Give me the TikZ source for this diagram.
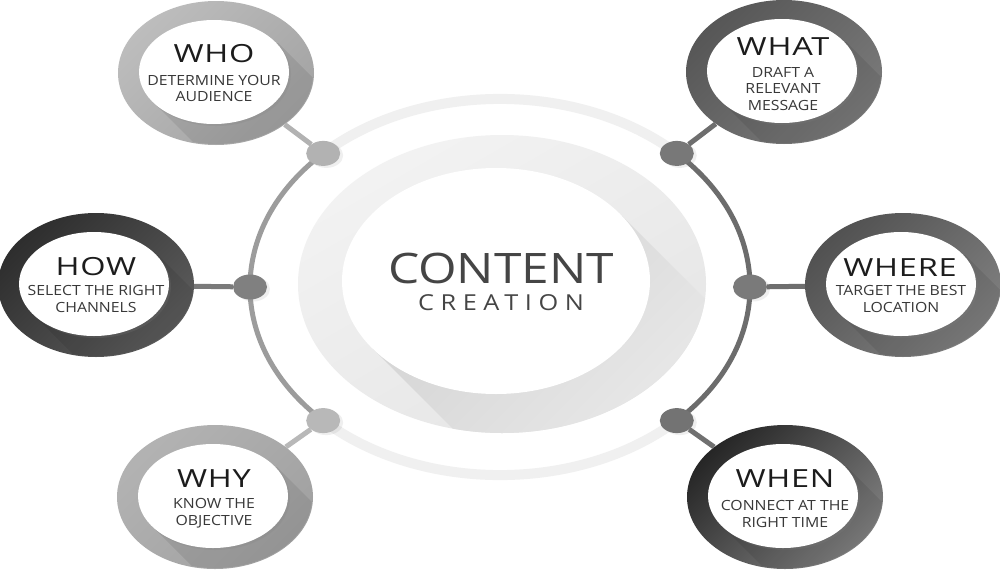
\documentclass[tikz,border=0pt]{standalone}
\usepackage{fontspec}
\setmainfont{Open Sans}
\newfontfamily\titlefont[FakeStretch=1.3,LetterSpace=3]{Open Sans}
\newfontfamily\subfont[FakeStretch=1.13]{Open Sans}
\newfontfamily\bigfont[FakeStretch=1.18]{Open Sans}
\newfontfamily\creafont[FakeStretch=1.15,LetterSpace=30]{Open Sans}
\usetikzlibrary{shapes.geometric,shadows,calc}
\definecolor{titlecol}{HTML}{1C1C1C}
\definecolor{subcol}{HTML}{383838}
\definecolor{bigcol}{HTML}{454545}
\definecolor{bandcol}{HTML}{F0F0F0}
\definecolor{leftarc}{HTML}{9C9C9C}
\definecolor{rightarc}{HTML}{6C6C6C}
\definecolor{outercol}{HTML}{EAEAEA}
\newcommand\satdraw[5]{%
  \node[outerring, top color=#4, bottom color=#5, shading angle=45] (#1) at (#2,#3) {};
  \begin{scope}
    \clip (#2,#3) ellipse [x radius=97pt, y radius=71pt];
    \fill[black, opacity=0.08] (#2+62,#3-30) -- (#2+142,#3+50) -- (#2+18,#3+110) -- (#2-62,#3+30) -- cycle;
  \end{scope}
  \node[innerdisc] (#1in) at (#2-2,#3-1) {};
}
\begin{document}
\begin{tikzpicture}[x=1pt,y=-1pt,
  outerring/.style={ellipse, minimum width=196pt, minimum height=144pt, inner sep=0pt},
  innerdisc/.style={ellipse, minimum width=150pt, minimum height=104pt, inner sep=0pt, fill=white,
     drop shadow={shadow xshift=2pt, shadow yshift=-2pt, opacity=0.2}},
  dotnode/.style={ellipse, minimum width=34pt, minimum height=25pt, inner sep=0pt,
     drop shadow={shadow xshift=3pt, shadow yshift=-2pt, opacity=0.12}},
  band/.style={draw=bandcol, line width=10pt},
  arcline/.style={line width=5pt},
  conn/.style={line width=5pt},
  ttl/.style={anchor=base, inner sep=0pt, text=titlecol, font=\titlefont\fontsize{25}{25}\selectfont},
  sub/.style={anchor=base, inner sep=0pt, text=subcol, font=\subfont\fontsize{14}{14}\selectfont}]
\useasboundingbox (0,0) rectangle (1000,570);
\fill[white] (0,0) rectangle (1000,570);

% ring points
\coordinate (pTL) at (323.2,153.4);
\coordinate (pL)  at (250,287);
\coordinate (pBL) at (323.2,420.6);
\coordinate (pTR) at (676.8,153.4);
\coordinate (pR)  at (750,287);
\coordinate (pBR) at (676.8,420.6);

% light band of the ring (top and bottom)
\draw[band] (pTR) arc[start angle=45, end angle=135, x radius=250pt, y radius=186pt];
\draw[band] (pBL) arc[start angle=225, end angle=315, x radius=250pt, y radius=186pt];

% central disc
\node[ellipse, minimum width=408pt, minimum height=298pt, inner sep=0pt,
      top color=outercol!60!white, bottom color=outercol!90!black!20!outercol, shading angle=30] (cout) at (502,284) {};
\begin{scope}
  \clip (502,284) ellipse [x radius=204pt, y radius=149pt];
  \shade[top color=black!17, bottom color=black!5, shading angle=45]
     (620,214) -- (820,414) -- (572,548) -- (372,348) -- cycle;
\end{scope}
\node[ellipse, minimum width=308pt, minimum height=226pt, inner sep=0pt, fill=white] (cin) at (496,281) {};
\node[anchor=base, inner sep=0pt, text=bigcol, font=\bigfont\fontsize{42}{42}\selectfont] (tcontent) at (501,283) {CONTENT};
\node[anchor=base, inner sep=0pt, text=bigcol, font=\creafont\fontsize{22}{22}\selectfont] (tcreation) at (501,310) {CREATION};

% side arcs of the ring
\draw[arcline, draw=leftarc] (pTL) arc[start angle=135, end angle=225, x radius=250pt, y radius=189pt];
\draw[arcline, draw=rightarc] (pBR) arc[start angle=-45, end angle=45, x radius=250pt, y radius=189pt];

% dots
\node[dotnode, fill=black!30] (dTL) at (pTL) {};
\node[dotnode, fill=black!50] (dL)  at (pL)  {};
\node[dotnode, fill=black!28] (dBL) at (pBL) {};
\node[dotnode, fill=black!53] (dTR) at (pTR) {};
\node[dotnode, fill=black!52] (dR)  at (pR)  {};
\node[dotnode, fill=black!55] (dBR) at (pBR) {};

% satellites
\satdraw{who}{216}{73}{black!26}{black!36}
\satdraw{what}{784}{72}{black!66}{black!52}
\satdraw{how}{96}{285}{black!82}{black!64}
\satdraw{where}{903}{285}{black!68}{black!50}
\satdraw{why}{215}{497}{black!30}{black!37}
\satdraw{when}{785}{497}{black!85}{black!50}

% connectors
\draw[conn, draw=black!30] (dTL) -- (who);
\draw[conn, draw=black!52] (dL) -- (how);
\draw[conn, draw=black!28] (dBL) -- (why);
\draw[conn, draw=black!57] (dTR) -- (what);
\draw[conn, draw=black!57] (dR) -- (where);
\draw[conn, draw=black!56] (dBR) -- (when);

% texts
\node[ttl] (who-t) at (214,62) {WHO};
\node[sub] (who-s1) at (214,85) {DETERMINE YOUR};
\node[sub] (who-s2) at (214,101) {AUDIENCE};

\node[ttl] (what-t) at (783,55) {WHAT};
\node[sub] (what-s1) at (783,77) {DRAFT A};
\node[sub] (what-s2) at (783,93) {RELEVANT};
\node[sub] (what-s3) at (783,110) {MESSAGE};

\node[ttl] (how-t) at (96,275) {HOW};
\node[sub] (how-s1) at (96,295) {SELECT THE RIGHT};
\node[sub] (how-s2) at (96,312) {CHANNELS};

\node[ttl] (where-t) at (900,276) {WHERE};
\node[sub] (where-s1) at (901,295) {TARGET THE BEST};
\node[sub] (where-s2) at (901,312) {LOCATION};

\node[ttl] (why-t) at (214,487) {WHY};
\node[sub] (why-s1) at (214,508) {KNOW THE};
\node[sub] (why-s2) at (214,525) {OBJECTIVE};

\node[ttl] (when-t) at (785,487) {WHEN};
\node[sub] (when-s1) at (785,510) {CONNECT AT THE};
\node[sub] (when-s2) at (785,527) {RIGHT TIME};
\end{tikzpicture}
\end{document}
